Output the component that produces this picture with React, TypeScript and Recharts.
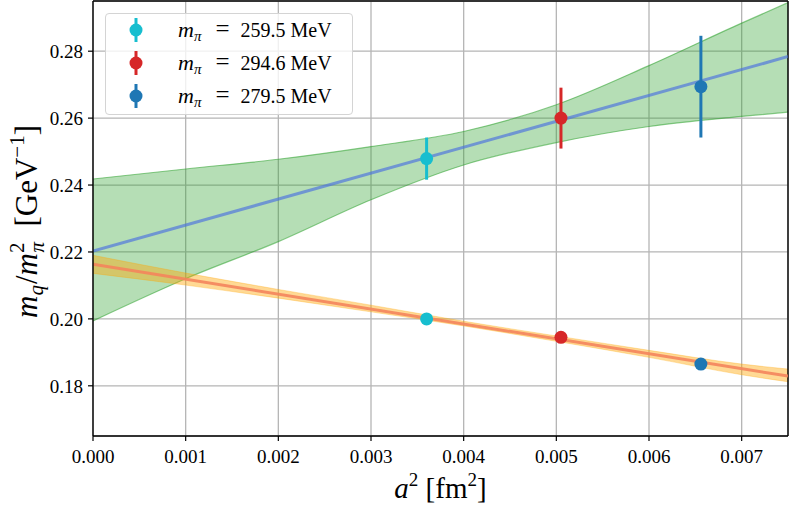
import React from "react";
import {
  ComposedChart,
  Area,
  Line,
  Scatter,
  ErrorBar,
  XAxis,
  YAxis,
  CartesianGrid,
  ReferenceLine,
  Legend,
  Label,
} from "recharts";

// ticks
const xTicks = [0, 0.001, 0.002, 0.003, 0.004, 0.005, 0.006, 0.007];
const yTicks = [0.18, 0.2, 0.22, 0.24, 0.26, 0.28];

// bands
const bandX = [0, 0.001, 0.002, 0.003, 0.004, 0.005, 0.006, 0.007, 0.0075];
const greenLo = [0.1994, 0.212, 0.2231, 0.2356, 0.246, 0.2527, 0.2575, 0.2605, 0.2618];
const greenHi = [0.2418, 0.2448, 0.2477, 0.2515, 0.256, 0.264, 0.2757, 0.2884, 0.2945];
const orangeLo = [0.2136, 0.2101, 0.2062, 0.2021, 0.1979, 0.1933, 0.1885, 0.1833, 0.1812];
const orangeHi = [0.219, 0.2137, 0.2088, 0.2041, 0.1993, 0.1949, 0.1906, 0.1865, 0.185];

// central fits
const fitX = [0, 0.0075];
const blueFit = [0.2203, 0.2784];
const orangeFit = [0.2163, 0.1829];

// ensembles
const pointX = [0.0036, 0.00505, 0.00656];
const upperY = [0.2479, 0.26, 0.2694];
const upperErr = [0.0063, 0.0091, 0.0152];
const lowerY = [0.2, 0.1945, 0.1865];
const pionMass = ["259.5", "294.6", "279.5"];
const pointColors = ["#17becf", "#d62728", "#1f77b4"];

const FONT = "'Liberation Serif', 'Times New Roman', serif";

const greenBand = bandX.map((x, i) => ({ x, range: [greenLo[i], greenHi[i]] }));
const orangeBand = bandX.map((x, i) => ({ x, range: [orangeLo[i], orangeHi[i]] }));
const blueLine = fitX.map((x, i) => ({ x, y: blueFit[i] }));
const orangeLine = fitX.map((x, i) => ({ x, y: orangeFit[i] }));
const ensembles = pointX.map((x, i) => [
  { x, y: upperY[i], err: upperErr[i] },
  { x, y: lowerY[i], err: 0 },
]);

function LegendBox() {
  return (
    <div
      style={{
        width: 246,
        height: 100,
        border: "1px solid #d4d4d4",
        borderRadius: 4,
        background: "rgba(255,255,255,0.8)",
        fontFamily: FONT,
        fontSize: 20,
        color: "#000",
        position: "relative",
      }}
    >
      {pionMass.map((m, i) => (
        <div
          key={m}
          style={{ position: "absolute", left: 0, top: 4 + i * 33, height: 24, display: "flex", alignItems: "center" }}
        >
          <svg width={60} height={26}>
            <line x1={30} x2={30} y1={1} y2={25} stroke={pointColors[i]} strokeWidth={3} />
            <circle cx={30} cy={13} r={6.5} fill={pointColors[i]} />
          </svg>
          <span style={{ marginLeft: 12, whiteSpace: "nowrap" }}>
            <i style={{ fontSize: 22 }}>m</i>
            <sub style={{ fontSize: 15, fontStyle: "italic", verticalAlign: -4 }}>π</sub>
            <span style={{ fontSize: 25, margin: "0 11px 0 14px" }}>=</span>
            {m + " MeV"}
          </span>
        </div>
      ))}
    </div>
  );
}

export default function App() {
  const tick = { fill: "#000", fontSize: 19, fontFamily: FONT };
  return (
    <div style={{ position: "absolute", left: 0, top: 0, width: 789, height: 505, background: "#fff" }}>
      <ComposedChart width={789} height={505} margin={{ top: 1, right: 1, left: 0, bottom: 0 }}>
        <CartesianGrid stroke="#b5b5b5" strokeWidth={1.3} />
        <XAxis
          dataKey="x"
          type="number"
          domain={[0, 0.0075]}
          ticks={xTicks}
          allowDataOverflow
          height={69}
          tick={tick}
          tickSize={5}
          tickMargin={9}
          tickFormatter={(v: number) => v.toFixed(3)}
          axisLine={{ stroke: "#000", strokeWidth: 1.4 }}
          tickLine={{ stroke: "#000", strokeWidth: 1.2 }}
        >
          <Label
            content={({ viewBox }: any) => (
              <text
                x={viewBox.x + viewBox.width / 2}
                y={viewBox.y + viewBox.height - 7}
                textAnchor="middle"
                fontFamily={FONT}
                fontSize={29}
              >
                <tspan fontStyle="italic">a</tspan>
                <tspan fontSize={19} dy={-12}>2</tspan>
                <tspan dy={12}> [fm</tspan>
                <tspan fontSize={19} dy={-12}>2</tspan>
                <tspan dy={12}>]</tspan>
              </text>
            )}
          />
        </XAxis>
        <YAxis
          dataKey="y"
          type="number"
          domain={[0.165, 0.295]}
          ticks={yTicks}
          allowDataOverflow
          width={93}
          tick={tick}
          tickSize={5}
          tickMargin={5}
          tickFormatter={(v: number) => v.toFixed(2)}
          axisLine={{ stroke: "#000", strokeWidth: 1.4 }}
          tickLine={{ stroke: "#000", strokeWidth: 1.2 }}
        >
          <Label
            content={({ viewBox }: any) => {
              const cx = viewBox.x + 37;
              const cy = viewBox.y + viewBox.height / 2 + 3;
              return (
                <text
                  x={cx}
                  y={cy}
                  textAnchor="middle"
                  fontFamily={FONT}
                  fontSize={31}
                  transform={`rotate(-90 ${cx} ${cy})`}
                >
                  <tspan fontStyle="italic">m</tspan>
                  <tspan fontSize={21} fontStyle="italic" dy={6}>q</tspan>
                  <tspan dy={-6} dx={1}>/</tspan>
                  <tspan fontStyle="italic">m</tspan>
                  <tspan fontSize={21} dy={-13}>2</tspan>
                  <tspan fontSize={21} fontStyle="italic" dx={-10} dy={20}>π</tspan>
                  <tspan dy={-7}>{"\u00a0 [GeV"}</tspan>
                  <tspan fontSize={21} dy={-13}>−1</tspan>
                  <tspan dy={13}>]</tspan>
                </text>
              );
            }}
          />
        </YAxis>
        <ReferenceLine y={0.295} stroke="#000" strokeWidth={1.4} />
        <ReferenceLine x={0.0075} stroke="#000" strokeWidth={1.4} />

        <Area
          data={greenBand}
          dataKey="range"
          type="monotone"
          fill="#2ca02c"
          fillOpacity={0.35}
          stroke="#2ca02c"
          strokeOpacity={0.55}
          strokeWidth={1.2}
          isAnimationActive={false}
          activeDot={false}
        />
        <Line
          data={blueLine}
          dataKey="y"
          stroke="#4a6fe0"
          strokeOpacity={0.65}
          strokeWidth={3}
          dot={false}
          isAnimationActive={false}
        />
        <Area
          data={orangeBand}
          dataKey="range"
          type="monotone"
          fill="#ffa500"
          fillOpacity={0.42}
          stroke="#ffa500"
          strokeOpacity={0.3}
          strokeWidth={1}
          isAnimationActive={false}
          activeDot={false}
        />
        <Line
          data={orangeLine}
          dataKey="y"
          stroke="#f4845c"
          strokeOpacity={0.9}
          strokeWidth={3}
          dot={false}
          isAnimationActive={false}
        />
        {ensembles.map((pts, i) => (
          <Scatter
            key={pionMass[i]}
            data={pts}
            fill={pointColors[i]}
            isAnimationActive={false}
            shape={(p: any) => <circle cx={p.cx} cy={p.cy} r={6.5} fill={pointColors[i]} />}
          >
            <ErrorBar dataKey="err" direction="y" width={0} stroke={pointColors[i]} strokeWidth={3} />
          </Scatter>
        ))}
        <Legend
          layout="horizontal"
          verticalAlign="middle"
          align="center"
          content={() => <LegendBox />}
          wrapperStyle={{ left: 105, top: 13, width: 248, height: 102 }}
        />
      </ComposedChart>
    </div>
  );
}
